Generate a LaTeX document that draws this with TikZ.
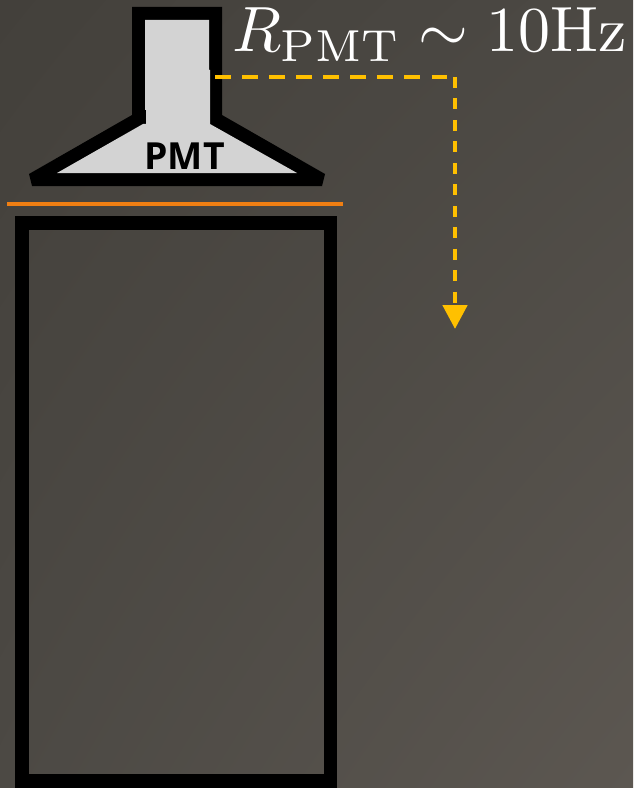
\documentclass[tikz,border=0pt]{standalone}
\usepackage{fontspec}
\usepackage{amsmath}
\newfontfamily\labelfont{Open Sans}
\usetikzlibrary{arrows.meta, shadings}
\definecolor{bgdark}{HTML}{43403B}
\definecolor{bgmid}{HTML}{4C4944}
\definecolor{bglight}{HTML}{5C5751}
\definecolor{bulbgray}{HTML}{D3D3D3}
\definecolor{foilorange}{HTML}{F07F13}
\definecolor{pulseyellow}{HTML}{FFC000}
\tikzset{
  wall/.style={draw=black, line width=10pt, miter limit=10},
  pulse/.style={draw=pulseyellow, line width=3.7pt},
}
\begin{document}
\begin{tikzpicture}[x=0.75pt, y=-0.75pt, >=stealth]
    \useasboundingbox (0, 0) rectangle (633, 788);
    % background
    \shade[upper left=bgdark, upper right=bgmid, lower left=bgmid, lower right=bglight] (0, 0) rectangle (633, 788);
    % tube
    \draw[wall] (22, 223) rectangle (330.5, 781);
    \draw[foilorange, line width=3pt] (7, 204) -- (343, 204);
    % PMT
    \fill[black] (132, 7) -- (222, 7) -- (222, 115) -- (325, 174) -- (322, 186) -- (32, 186) -- (29, 174) -- (132, 115) -- cycle;
    \fill[bulbgray] (145, 20) -- (209, 20) -- (209, 70) -- (210, 70) -- (210, 124) -- (297, 173) -- (57, 173) -- (143, 124) -- (146, 124) -- (146, 110) -- (145, 110) -- cycle;
    \node[inner sep=0pt, anchor=base] (pmt) at (184.5, 170) {\labelfont\bfseries\fontsize{28}{28}\selectfont PMT};
    \node[inner sep=0pt, anchor=base west, text=white, scale=4.8] (rate) at (231, 52) {$R_{\text{PMT}}\sim 10\text{Hz}$};
    % pulse
    \coordinate (tap) at (215, 77);
    \coordinate (bend) at (455, 77);
    \coordinate (tip) at (455, 329);
    \draw[pulse, line width=3pt, dash pattern=on 11.7pt off 8.6pt] (tap) -- (bend);
    \draw[pulse, -{Triangle[width=18pt, length=18pt]}, dash pattern=on 8.2pt off 7.9pt] (bend) -- (tip);
  \end{tikzpicture}
\end{document}
